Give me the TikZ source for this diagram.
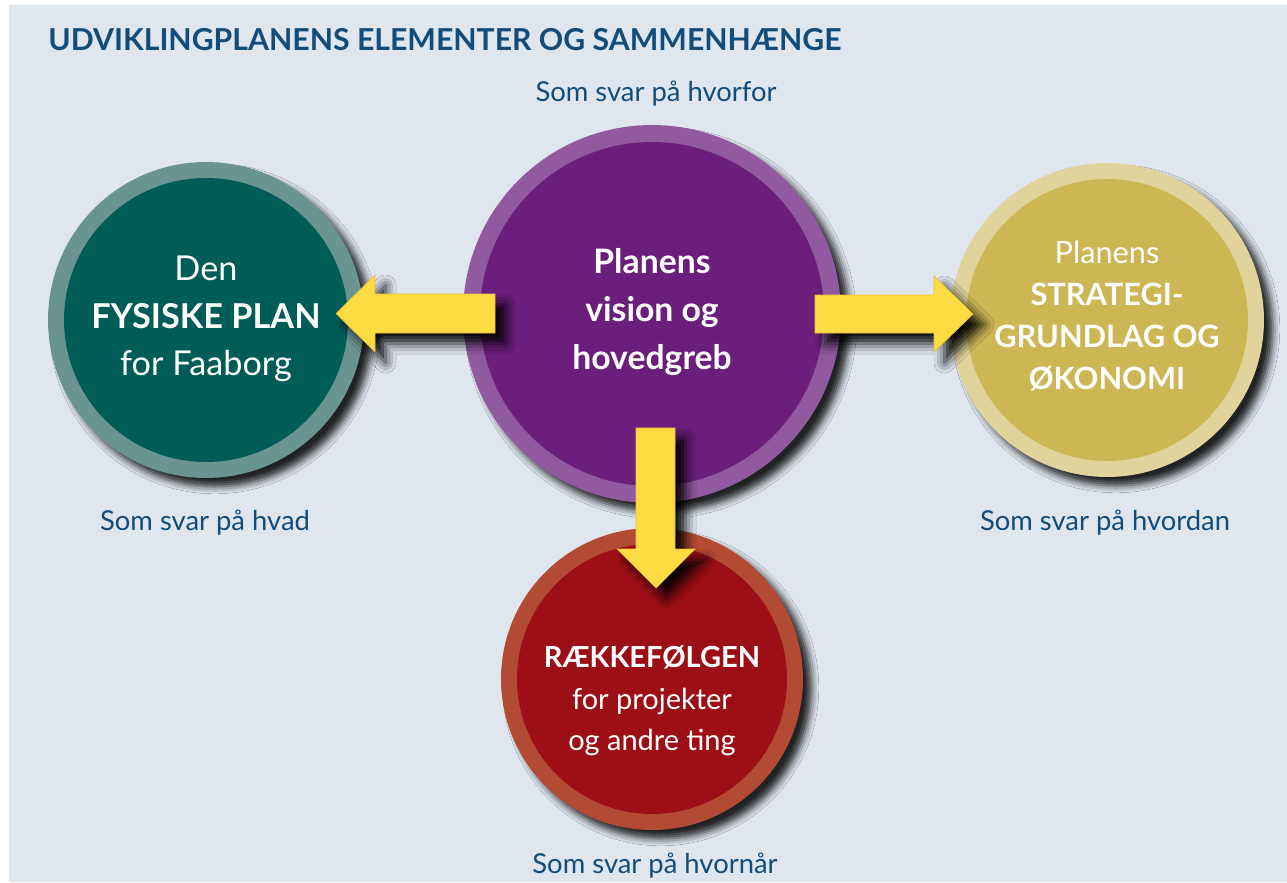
\documentclass[tikz,border=0pt]{standalone}
\usepackage{fontspec}
\setmainfont{Lato}
\usetikzlibrary{shadows.blur}

\definecolor{bgblue}{HTML}{DFE6EE}
\definecolor{textblue}{HTML}{124C7B}
\definecolor{greenring}{HTML}{6A9490}
\definecolor{greenfill}{HTML}{005C56}
\definecolor{purplering}{HTML}{9159A0}
\definecolor{purplefill}{HTML}{6B1E7B}
\definecolor{goldring}{HTML}{E0D49C}
\definecolor{goldfill}{HTML}{CDB755}
\definecolor{redring}{HTML}{B34A33}
\definecolor{redfill}{HTML}{9C0F17}
\definecolor{pilyellow}{HTML}{FDDC43}
\definecolor{piledge}{HTML}{EDBE3A}

\def\fs#1#2{\fontsize{#1}{#2}\selectfont}

\tikzset{
	outer/.style={circle, inner sep=0pt, minimum size=#1,
		blur shadow={shadow xshift=5pt, shadow yshift=-5pt, shadow blur radius=4pt, shadow opacity=85}},
	inner/.style={circle, inner sep=0pt, minimum size=#1},
	pil/.style={fill=pilyellow, draw=piledge, line width=0.4pt,
		blur shadow={shadow xshift=6pt, shadow yshift=-6pt, shadow blur radius=6pt, shadow opacity=95}},
	svar/.style={anchor=base, text=textblue, font=\fs{15.6}{18}},
	incircle/.style={text=white, align=center}
}

\begin{document}
\begin{tikzpicture}[x=0.02cm, y=-0.02cm]
		%%%%% START %%%%%
		
		\useasboundingbox (0, 0) rectangle (1287, 882);
		\fill[white] (0, 0) rectangle (1287, 882);
		\fill[bgblue] (9, 5) rectangle (1287, 882);
		
		\node[anchor=base west, inner sep=0pt, text=textblue, font=\fs{17.2}{20}\bfseries] (title) at (48, 51) {UDVIKLINGPLANENS ELEMENTER OG SAMMENHÆNGE};
		
		% circles
		\node[outer=6.32cm, fill=greenring] (plan) at (206, 320) {};
		\node[inner=5.68cm, fill=greenfill] (planin) at (plan.center) {};
		
		\node[outer=7.56cm, fill=purplering] (vision) at (652, 314) {};
		\node[inner=6.88cm, fill=purplefill] (visionin) at (vision.center) {};
		
		\node[outer=6.28cm, fill=goldring] (strategi) at (1107, 320) {};
		\node[inner=5.64cm, fill=goldfill] (strategiin) at (strategi.center) {};
		
		\node[outer=6.04cm, fill=redring] (raekke) at (652, 679) {};
		\node[inner=5.40cm, fill=redfill] (raekkein) at (raekke.center) {};
		
		% arrows
		\fill[pil] (495, 294) -- (375, 294) -- (375, 275) -- (336, 313.5) -- (375, 352) -- (375, 333) -- (495, 333) -- cycle;
		\fill[pil] (815, 295) -- (934, 295) -- (934, 276) -- (973, 314) -- (934, 352) -- (934, 333) -- (815, 333) -- cycle;
		\fill[pil] (636, 428) -- (636, 549) -- (617, 549) -- (656, 588) -- (695, 549) -- (675, 549) -- (675, 428) -- cycle;
		
		% texts in the circles
		\node[incircle, font=\fs{19.5}{27}] (plantext) at (206, 319) {Den\\\textbf{FYSISKE PLAN}\\for Faaborg};
		\node[incircle, font=\fs{19.2}{27.3}\bfseries] (visiontext) at (652, 312) {Planens\\vision og\\hovedgreb};
		\node[incircle, font=\fs{17.5}{24}] (strategitext) at (1107, 316) {Planens\\\textbf{STRATEGI-}\\\textbf{GRUNDLAG OG}\\\textbf{ØKONOMI}};
		\node[incircle, font=\fs{16.5}{23.6}] (raekketext) at (652, 701) {\textbf{RÆKKEFØLGEN}\\for projekter\\og andre ting};
		
		% answers
		\node[svar] (hvorfor) at (656, 102) {Som svar på hvorfor};
		\node[svar] (hvad) at (205, 530) {Som svar på hvad};
		\node[svar] (hvordan) at (1105, 530) {Som svar på hvordan};
		\node[svar] (hvornaar) at (655, 873) {Som svar på hvornår};
		
		%%%%% END %%%%%
	\end{tikzpicture}
\end{document}
